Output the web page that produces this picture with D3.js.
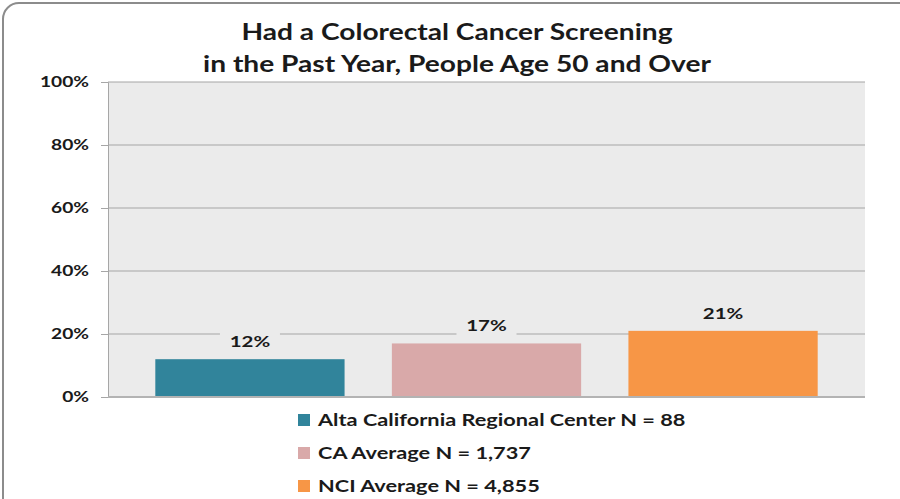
<!DOCTYPE html>
<html>
<head>
<meta charset="utf-8">
<script src="https://cdn.jsdelivr.net/npm/d3@7"></script>
<style>
  html, body { margin: 0; padding: 0; background: #fff; }
  svg { display: block; font-family: Lato, "Open Sans", sans-serif; }
</style>
</head>
<body>
<svg id="chart" width="900" height="499"></svg>
<script>
// Chart data
const titleLines = ["Had a Colorectal Cancer Screening", "in the Past Year, People Age 50 and Over"];
const categories = ["Alta California Regional Center N = 88", "CA Average N = 1,737", "NCI Average N = 4,855"];
const values = [12, 17, 21];
const colors = ["#31849b", "#d9a9a9", "#f79646"];
const yTicks = [0, 20, 40, 60, 80, 100];

const svg = d3.select("#chart");
const W = 900, H = 499;
const SX = 1.28; // horizontal stretch of the lettering

// Place a text element at (x, y) with the wide lettering
function placeText(sel, x, y) {
  sel.attr("x", 0).attr("y", 0)
     .attr("transform", (d, i) => `translate(${typeof x === "function" ? x(d, i) : x},${typeof y === "function" ? y(d, i) : y}) scale(${SX},1)`);
}

// Outer frame
svg.append("rect")
  .attr("x", 3).attr("y", 3)
  .attr("width", W + 20).attr("height", H + 20)
  .attr("rx", 16).attr("ry", 16)
  .attr("fill", "#fff")
  .attr("stroke", "#8c8c8c").attr("stroke-width", 2);

// Title
svg.append("g").selectAll("text")
  .data(titleLines).join("text")
  .call(placeText, 457, (d, i) => 40 + i * 32)
  .attr("text-anchor", "middle")
  .attr("font-size", 22).attr("font-weight", 700)
  .attr("fill", "#1a1a1a")
  .text(d => d);

const plot = { left: 108, right: 865, top: 82, bottom: 397 };

const x = d3.scaleBand()
  .domain(categories)
  .range([plot.left, plot.right])
  .paddingInner(0.2).paddingOuter(0.2);

const y = d3.scaleLinear().domain([0, 100]).range([plot.bottom, plot.top]);

// Plot background
svg.append("rect")
  .attr("x", plot.left).attr("y", plot.top)
  .attr("width", plot.right - plot.left).attr("height", plot.bottom - plot.top)
  .attr("fill", "#ebebeb");

// Gridlines
svg.append("g").selectAll("line")
  .data(yTicks.filter(t => t > 0)).join("line")
  .attr("x1", plot.left).attr("x2", plot.right)
  .attr("y1", d => y(d)).attr("y2", d => y(d))
  .attr("stroke", "#a6a6a6").attr("stroke-width", 1.2);

// Y axis
const yAxis = d3.axisLeft(y)
  .tickValues(yTicks)
  .tickFormat(d => d + "%")
  .tickSize(7).tickPadding(12);
const gy = svg.append("g")
  .attr("transform", `translate(${plot.left},0)`)
  .call(yAxis);
gy.select(".domain").attr("stroke", "#a6a6a6");
gy.selectAll(".tick line").attr("stroke", "#a6a6a6");
gy.selectAll(".tick text")
  .attr("x", -19 / SX)
  .attr("transform", `scale(${SX},1)`)
  .attr("font-family", "Lato, sans-serif")
  .attr("font-size", 15).attr("font-weight", 700).attr("fill", "#1a1a1a");

// Bars
svg.append("g").selectAll("rect")
  .data(values).join("rect")
  .attr("x", (d, i) => x(categories[i]))
  .attr("y", d => y(d))
  .attr("width", x.bandwidth())
  .attr("height", d => y(0) - y(d))
  .attr("fill", (d, i) => colors[i]);

// Baseline
svg.append("line")
  .attr("x1", plot.left).attr("x2", plot.right)
  .attr("y1", y(0)).attr("y2", y(0))
  .attr("stroke", "#b3b3b3").attr("stroke-width", 2);

// Value labels with a background plate
const lbl = svg.append("g").selectAll("g")
  .data(values).join("g")
  .attr("transform", (d, i) => `translate(${x(categories[i]) + x.bandwidth() / 2},${y(d) - 12})`);
lbl.append("rect")
  .attr("x", -30).attr("y", -17).attr("width", 60).attr("height", 22)
  .attr("fill", "#ebebeb");
lbl.append("text")
  .call(placeText, 0, 0)
  .attr("text-anchor", "middle")
  .attr("font-size", 16).attr("font-weight", 700).attr("fill", "#1a1a1a")
  .text(d => d + "%");

// Legend
const leg = svg.append("g").selectAll("g")
  .data(categories).join("g")
  .attr("transform", (d, i) => `translate(298,${420 + i * 33})`);
leg.append("rect")
  .attr("x", 0).attr("y", -6).attr("width", 12).attr("height", 12)
  .attr("fill", (d, i) => colors[i]);
leg.append("text")
  .call(placeText, 20, 6)
  .attr("font-size", 17).attr("font-weight", 700).attr("fill", "#1a1a1a")
  .text(d => d);
</script>
</body>
</html>
